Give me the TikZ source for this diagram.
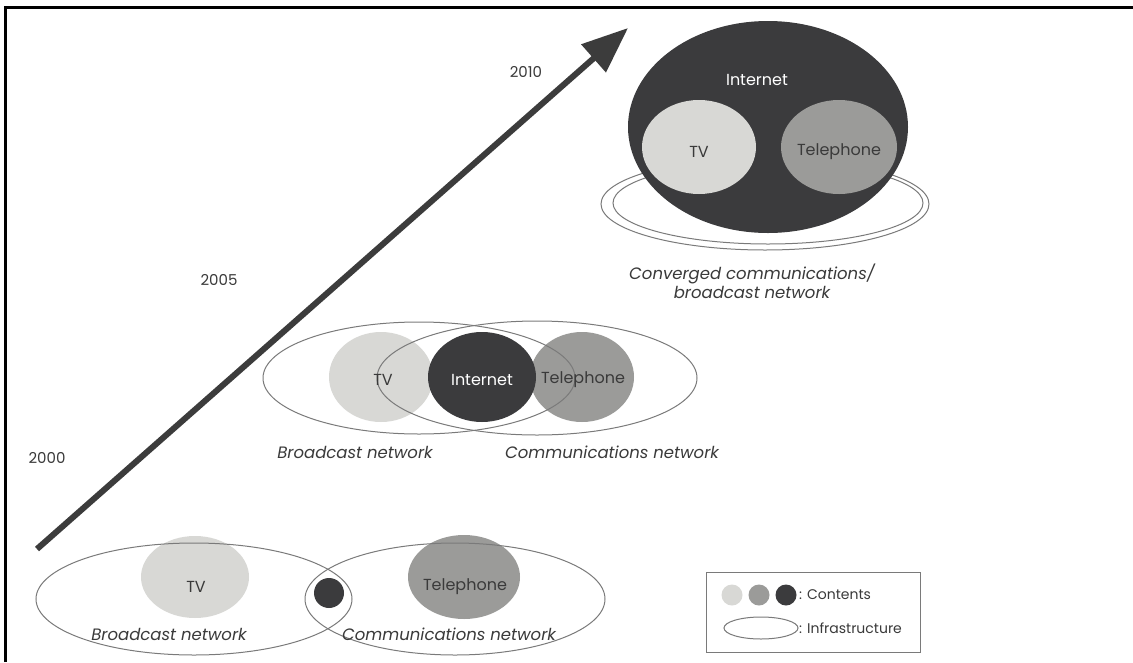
\documentclass[tikz,border=0pt]{standalone}
\usepackage{fontspec}
\setmainfont{Poppins}
\usetikzlibrary{arrows.meta}
\definecolor{lightc}{HTML}{D8D8D5}
\definecolor{midc}{HTML}{9B9B99}
\definecolor{darkc}{HTML}{3B3B3D}
\definecolor{linec}{HTML}{7A7A7A}
\definecolor{txt}{HTML}{3A3A3A}
\definecolor{arrowc}{HTML}{3C3C3C}
\begin{document}
\begin{tikzpicture}[x=1pt,y=-1pt,
  infra/.style={draw=linec, line width=1pt},
  lab/.style={font=\fontsize{16}{18}\selectfont, text=txt, inner sep=0pt},
  wlab/.style={font=\fontsize{16}{18}\selectfont, text=white, inner sep=0pt},
  captext/.style={font=\fontsize{16.5}{19}\selectfont\itshape, text=txt, inner sep=0pt, align=center},
  year/.style={font=\fontsize{15}{17}\selectfont, text=txt, inner sep=0pt},
  leg/.style={font=\fontsize{14}{16}\selectfont, text=txt, inner sep=0pt, anchor=west},
]
\useasboundingbox (0,0) rectangle (1133,662);
\fill[white] (0,0) rectangle (1133,662);
\draw[line width=3pt] (5,662) -- (5,7) -- (1133,7);

% time arrow
\coordinate (tail) at (37,549);
\coordinate (tip) at (628,28);
\draw[arrowc, line width=6pt, -{Triangle[length=46pt,width=36pt]}] (tail) -- (tip);
\node[year] (y2010) at (526,72) {2010};
\node[year] (y2005) at (219,280) {2005};
\node[year] (y2000) at (47,458) {2000};

% ---- 2010 ----
\draw[infra] (765,204) ellipse [x radius=164pt, y radius=46pt];
\draw[infra] (768,203) ellipse [x radius=155pt, y radius=41pt];
\fill[darkc] (768,127) ellipse [x radius=140pt, y radius=106pt];
\fill[lightc] (699,147) ellipse [x radius=57pt, y radius=47pt];
\fill[midc] (839,147) ellipse [x radius=58pt, y radius=47pt];
\node[wlab] (inet3) at (757,80) {Internet};
\node[lab] (tv3) at (699,152) {TV};
\node[lab] (tel3) at (839,152) {Telephone};
\node[captext] (conv) at (752,281) {Converged communications/\\broadcast network};

% ---- 2005 ----
\fill[lightc] (381,377) ellipse [x radius=52pt, y radius=45pt];
\fill[midc] (582,377) ellipse [x radius=52pt, y radius=45pt];
\fill[darkc] (482,377) ellipse [x radius=54pt, y radius=45pt];
\draw[infra] (419,378) ellipse [x radius=156pt, y radius=56pt];
\draw[infra] (537,378) ellipse [x radius=160pt, y radius=57pt];
\node[lab] (tv2) at (383,380) {TV};
\node[wlab] (inet2) at (482,380) {Internet};
\node[lab] (tel2) at (583,380) {Telephone};
\node[captext] (bc2) at (355,452) {Broadcast network};
\node[captext] (cn2) at (612,452) {Communications network};

% ---- 2000 ----
\fill[lightc] (195,577) ellipse [x radius=54pt, y radius=41pt];
\fill[midc] (464,577) ellipse [x radius=56pt, y radius=42pt];
\fill[darkc] (329,593) circle [radius=15pt];
\draw[infra] (194,599) ellipse [x radius=158pt, y radius=56pt];
\draw[infra] (455,599) ellipse [x radius=150pt, y radius=56pt];
\node[lab] (tv1) at (196,587) {TV};
\node[lab] (tel1) at (465,587) {Telephone};
\node[captext] (bc1) at (169,634) {Broadcast network};
\node[captext] (cn1) at (449,634) {Communications network};

% ---- legend ----
\draw[linec, line width=0.8pt] (706,572) rectangle (920,652);
\fill[lightc] (732,595) circle [radius=10.5pt];
\fill[midc] (759,595) circle [radius=10.5pt];
\fill[darkc] (786,595) circle [radius=10.5pt];
\node[leg] (lc) at (799,595) {: Contents};
\draw[infra] (761,628) ellipse [x radius=37pt, y radius=11pt];
\node[leg] (li) at (799,628) {: Infrastructure};
\end{tikzpicture}
\end{document}
